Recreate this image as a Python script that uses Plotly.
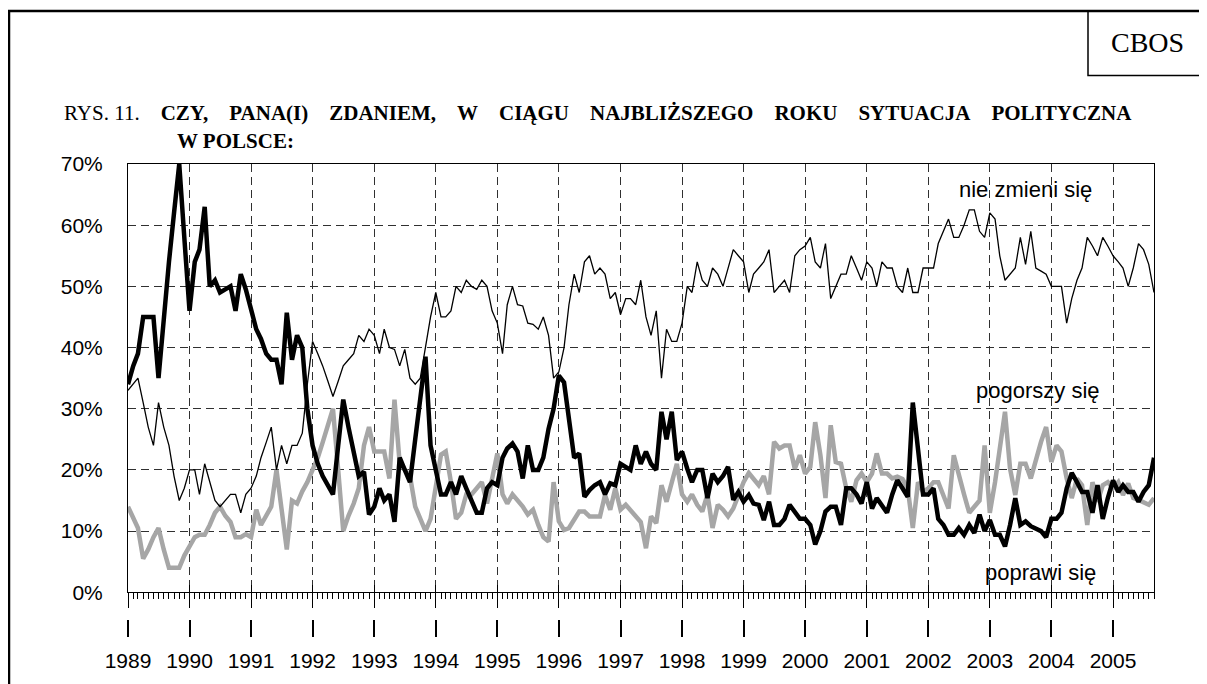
"""CBOS chart: expected political situation in Poland over the next year, 1989-2005."""

import pandas as pd
import plotly.graph_objects as go

# monthly readings, Jan 1989 .. Sep 2005 (one row per year)
START_MONTH = "1989-01-01"

POPRAWI = [
    34, 37, 39, 45, 45, 45, 35, 45, 54, 62, 70, 58,
    46, 54, 56, 63, 50, 51, 49, 49.5, 50, 46, 52, 49.5,
    46, 43, 41.4, 39, 38, 38, 34, 45.7, 38, 42, 40, 30,
    24, 21, 19, 17.5, 16, 24, 31.5, 27, 23, 19, 19.7, 12.7,
    14, 17, 15, 16, 11.5, 22, 20, 18, 25, 32, 38.5, 24,
    20, 16, 16, 18, 16, 19, 17, 15, 13, 13, 17, 18,
    17.5, 22, 23.5, 24.3, 23, 18.6, 24, 20, 20, 22, 26.7, 30,
    35.4, 34.3, 28, 22, 22.7, 15.6, 16.7, 17.5, 18, 16, 17.8, 17.5,
    21, 20.5, 20, 24, 21, 23, 21, 20, 29.5, 25, 29.5, 21.6,
    23, 20.2, 18, 20, 20, 15.4, 19.4, 18, 19, 20.5, 15.1, 16.4,
    14.8, 15.9, 14.5, 14.3, 11.8, 14.8, 11, 11, 12, 14.3, 13.2, 12,
    12, 11, 7.8, 10, 13.2, 14, 14, 11, 17, 17, 16, 14.5,
    18, 13.7, 15.4, 14.3, 13, 16, 18.3, 17, 15.6, 31, 23, 16,
    16, 17, 12, 11, 9.4, 9.4, 10.5, 9.4, 11, 9.7, 12.7, 10,
    11.8, 9.4, 9.4, 7.5, 11, 15.4, 11, 11.6, 10.8, 10.5, 10, 9,
    12, 12, 13, 17, 19.5, 18, 16.4, 16.4, 13, 17.5, 12, 15.4,
    18.3, 16.4, 17.5, 16.4, 16.4, 14.8, 16.4, 17.5, 22,
]

NIE_ZMIENI = [
    33, 34, 35, 31, 27, 24, 31, 27, 24, 19, 15, 17,
    20, 20, 16, 21, 18, 15, 14, 15, 16, 16, 13, 16,
    17, 19, 22, 24.5, 27, 20, 24, 21, 24, 24, 26, 34,
    41, 39, 37, 34.5, 32, 34.5, 37, 38, 39, 42, 41, 43,
    42, 39, 43, 40, 39.7, 37, 39.7, 35, 34, 35, 40, 45,
    49, 45, 45, 46, 50, 49, 51, 50, 49.5, 51, 50, 46,
    44, 39, 47, 50, 47, 46.8, 44, 43.8, 43, 45, 42, 35,
    36, 40, 47, 52, 49, 54, 55, 52, 53, 52, 48, 49,
    45.4, 48, 48, 47, 51, 45, 42, 46, 35, 43, 41, 41,
    44, 50, 49, 54, 51, 50, 53, 52, 50, 53, 56, 55,
    54, 49, 52, 53, 54, 56, 49, 50, 51, 49, 55, 56,
    56.6, 58, 54, 53, 57, 48, 50, 52, 52, 55, 53, 51,
    54, 53, 50, 54, 53, 53, 50, 49, 53, 49, 49, 53,
    53, 53, 57, 59, 61, 58, 58, 60, 62.5, 62.5, 59, 58,
    62, 61, 55, 51, 52, 53, 58, 53.6, 59, 53, 52.5, 52,
    50, 50, 50, 44, 48, 51, 53, 58, 56.6, 55, 58, 56.6,
    55, 54, 53, 50, 53, 57, 56, 53.6, 49,
]

POGORSZY = [
    14, 12, 10.5, 5.5, 7, 9, 10.5, 7, 4, 4, 4, 6,
    7.5, 9, 9.4, 9.4, 11, 13, 14, 12.5, 11.5, 9, 9, 9.5,
    9, 13.5, 11, 12.5, 14, 20, 13, 7, 15, 14.5, 16.5, 18,
    20, 22, 24.5, 27.5, 30, 20, 10, 12.5, 14.5, 17, 24, 27,
    23, 23, 23, 18.6, 31.5, 21, 20, 19, 14, 12, 10, 12,
    17, 22.5, 23, 18, 12, 13, 16, 16, 17, 18, 14.5, 18.5,
    22.7, 16, 14.5, 16, 15, 14, 12.7, 13.5, 11, 9, 8.3, 18,
    11.6, 10.2, 10.5, 12, 13.2, 13.2, 12.4, 12.4, 12.4, 15.9, 13.5, 17,
    13.5, 14.3, 13.5, 12.5, 11.5, 7.2, 12.4, 11.3, 17.5, 14.8, 18, 21,
    16, 14.8, 16, 14.3, 13.2, 16, 10.5, 14.3, 13.5, 12.4, 13.7, 15.9,
    18, 19.5, 18.5, 17.5, 19, 16, 24.6, 23.5, 24, 24, 20.2, 22.4,
    19.4, 20.5, 27.8, 22.4, 15.4, 27.3, 21.3, 21, 17, 14.8, 18.3, 19.4,
    18, 19.4, 22.7, 19.4, 19.4, 18.6, 18.9, 18.5, 17, 10.5, 18, 16.4,
    17, 18, 18, 16, 13.7, 22.4, 19, 16, 13, 14, 15, 24,
    13, 18, 23.5, 29.5, 20.2, 15.9, 21, 21, 18.6, 21.6, 24.6, 27,
    21.3, 24, 23, 18.6, 15.4, 18.6, 17.5, 11, 18, 14.8, 17.5, 18,
    17, 18, 15.9, 17.8, 15.4, 15.1, 14.8, 14.3, 15.4,
]

Y_TICKS = [0, 10, 20, 30, 40, 50, 60, 70]
Y_LABELS = [f"{v}%" for v in Y_TICKS]

# the page body adds an 8px margin, so the figure sits at (8, 8) in the window
OFF = 8
W, H = 1207 - OFF, 684 - OFF
# plot box in window pixels
L, R, T, B = 128, 1154, 164, 640


def px(x):
    """window x pixel -> paper x"""
    return (x - L) / (R - L)


def py(y):
    """window y pixel -> paper y"""
    return (B - y) / (B - T)


SANS = "Liberation Sans, Arial, sans-serif"
SERIF = "Liberation Serif, Times New Roman, serif"
GRID = dict(showgrid=True, gridcolor="#303030", gridwidth=1, griddash="8px,5px")

dates = pd.date_range(START_MONTH, periods=len(POPRAWI), freq="MS")

fig = go.Figure()
fig.add_trace(go.Scatter(x=dates, y=POGORSZY, mode="lines", name="pogorszy się",
                         line=dict(color="#a6a6a6", width=4.5)))
fig.add_trace(go.Scatter(x=dates, y=POPRAWI, mode="lines", name="poprawi się",
                         line=dict(color="black", width=4.5)))
fig.add_trace(go.Scatter(x=dates, y=NIE_ZMIENI, mode="lines", name="nie zmieni się",
                         line=dict(color="black", width=1.3)))
# invisible anchors so the extra axes get drawn
for ax in ("x2", "x3"):
    fig.add_trace(go.Scatter(x=dates[:1], y=Y_TICKS[:1], xaxis=ax, mode="markers",
                             marker=dict(opacity=0), hoverinfo="skip", showlegend=False))

xrange = [dates[0], dates[-1]]
fig.update_layout(
    width=W, height=H,
    margin=dict(l=L - OFF, r=W - (R - OFF), t=T - OFF, b=H - (B - OFF)),
    paper_bgcolor="white", plot_bgcolor="white",
    showlegend=False,
    xaxis=dict(
        type="date", range=xrange, anchor="y",
        showline=True, linecolor="black", linewidth=1, mirror=True,
        dtick="M12", tick0=START_MONTH, ticks="outside", ticklen=15, tickcolor="black",
        showticklabels=False,
        minor=dict(dtick="M1", tick0=START_MONTH, ticks="outside", ticklen=6,
                   tickcolor="black", showgrid=False),
        **GRID,
    ),
    xaxis2=dict(
        type="date", range=xrange, overlaying="x", anchor="free", position=py(622),
        showline=False, showgrid=False, dtick="M12", tick0=START_MONTH,
        ticks="outside", ticklen=17, tickwidth=2, tickcolor="black",
        tickformat="%Y", tickfont=dict(family=SANS, size=21, color="black"),
        ticklabelstandoff=6,
    ),
    xaxis3=dict(
        type="date", range=xrange, overlaying="x", anchor="y",
        showline=False, showgrid=False, dtick="M12", tick0=START_MONTH,
        ticks="inside", ticklen=7, tickcolor="black", showticklabels=False,
    ),
    yaxis=dict(
        domain=[py(595), 1], range=[0, 70], tickvals=Y_TICKS, ticktext=Y_LABELS,
        showline=True, linecolor="black", linewidth=1, mirror=True,
        zeroline=False, ticks="", ticklabelstandoff=20,
        tickfont=dict(family=SANS, size=21, color="black"),
        **GRID,
    ),
)


def note(text, x, y, size, family, anchor="center"):
    fig.add_annotation(text=text, xref="paper", yref="paper", x=px(x), y=py(y),
                       xanchor=anchor, yanchor="middle", showarrow=False,
                       font=dict(family=family, size=size, color="black"))


# series labels
note("nie zmieni się", 1025, 190, 22, SANS)
note("pogorszy się", 1038, 392, 22, SANS)
note("poprawi się", 1040, 575, 22, SANS)

# title, spaced out like the justified original
sp = "\u00a0" * 4
head = sp.join(["CZY,", "PANA(I)", "ZDANIEM,", "W", "CIĄGU", "NAJBLIŻSZEGO",
                "ROKU", "SYTUACJA", "POLITYCZNA"])
note("RYS. 11." + "\u00a0" * 4 + "<b>" + head + "</b>", 62, 113, 21, SERIF, "left")
note("<b>W POLSCE:</b>", 175, 141, 21, SERIF, "left")
note("CBOS", 1147, 42, 28, SERIF)

# page frame and the CBOS box
fig.add_shape(type="rect", xref="paper", yref="paper",
              x0=px(9), y0=py(10), x1=px(1220), y1=py(700),
              line=dict(color="black", width=2.5))
fig.add_shape(type="rect", xref="paper", yref="paper",
              x0=px(1088), y0=py(10), x1=px(1220), y1=py(75),
              line=dict(color="black", width=1.5))

fig.write_html("out.html")
